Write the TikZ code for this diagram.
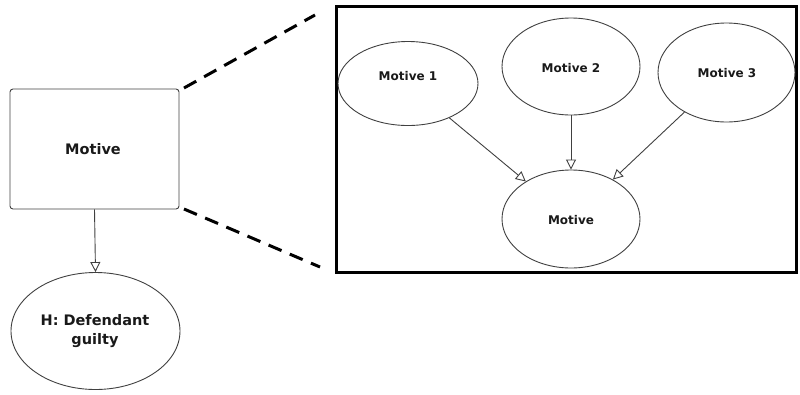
\documentclass[tikz,border=0pt]{standalone}
\usepackage{fontspec}
\setmainfont{DejaVu Sans}
\usetikzlibrary{shapes.geometric,arrows.meta}
\begin{document}
\begin{tikzpicture}[x=1pt,y=-1pt,
  thinline/.style={draw=black!75, line width=0.9pt},
  ell/.style={ellipse, thinline, inner sep=0pt},
  lbl/.style={font=\bfseries\fontsize{12}{14}\selectfont, text=black!90},
  biglbl/.style={font=\bfseries\fontsize{14.5}{19}\selectfont, text=black!90, align=center},
  arr/.style={thinline, -{Triangle[open, length=10pt, width=10pt]}},
  zoomline/.style={line width=3pt, dash pattern=on 14pt off 9pt}]
\useasboundingbox (0,0) rectangle (800,394);
% left side
\node[thinline, rounded corners=3pt, minimum width=169pt, minimum height=120pt] (box) at (94.5,149) {};
\node[biglbl] (boxt) at (93,149) {Motive};
\node[ell, minimum width=169pt, minimum height=117pt] (h) at (95.5,331) {};
\node[biglbl] (ht) at (95,331) {H: Defendant\\guilty};
\draw[arr] (box.south) -- (h.north);
% zoom frame
\node[draw, line width=3pt, minimum width=460pt, minimum height=266pt, inner sep=0pt] (frame) at (566,139.5) {};
\coordinate (z1) at (315,15);
\coordinate (z2) at (320,267);
\draw[zoomline] (184,88) -- (z1);
\draw[zoomline] (184,209) -- (z2);
% inner nodes
\node[ell, minimum width=140pt, minimum height=84pt] (m1) at (408,83.5) {};
\node[lbl] (m1t) at (408,76) {Motive 1};
\node[ell, minimum width=138pt, minimum height=97pt] (m2) at (571,66.5) {};
\node[lbl] (m2t) at (571,68) {Motive 2};
\node[ell, minimum width=137pt, minimum height=99pt] (m3) at (726.5,72.5) {};
\node[lbl] (m3t) at (727,73) {Motive 3};
\node[ell, minimum width=138pt, minimum height=98pt] (m) at (571,219) {};
\node[lbl] (mt) at (571,220) {Motive};
\draw[arr] (m1) -- (m);
\draw[arr] (m2) -- (m);
\draw[arr] (m3) -- (m);
\end{tikzpicture}
\end{document}
